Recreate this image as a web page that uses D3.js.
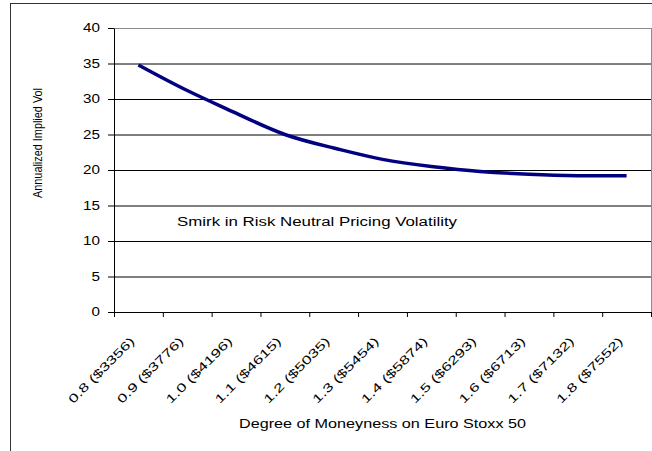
<!DOCTYPE html>
<html lang="en">

<head>
    <meta charset="UTF-8">
    <script src="https://d3js.org/d3.v7.min.js"></script>
    <title>Smirk</title>
    <style>
        body { margin: 0; background: #fff; }
        text { font-family: "Liberation Sans", Arial, sans-serif; fill: #000; }
    </style>
</head>

<body>
    <svg width="652" height="451" id="mainsvg"></svg>
    <script>
        // moneyness categories and implied vol
        const categories = ['0.8 ($3356)', '0.9 ($3776)', '1.0 ($4196)', '1.1 ($4615)', '1.2 ($5035)', '1.3 ($5454)',
            '1.4 ($5874)', '1.5 ($6293)', '1.6 ($6713)', '1.7 ($7132)', '1.8 ($7552)'];
        const vols = [34.8, 31.2, 28.0, 25.0, 23.1, 21.5, 20.5, 19.8, 19.4, 19.2, 19.2];
        const yTicks = [0, 5, 10, 15, 20, 25, 30, 35, 40];

        const svg = d3.select('#mainsvg');
        const width = +svg.attr('width');
        const height = +svg.attr('height');
        const margin = { top: 28, right: 1, bottom: 139, left: 114 };
        const innerWidth = width - margin.left - margin.right;
        const innerHeight = height - margin.top - margin.bottom;

        // outer chart frame (runs off the right and bottom edge)
        svg.append('rect')
            .attr('x', 10.5).attr('y', 3.5)
            .attr('width', 700).attr('height', 500)
            .attr('fill', 'none').attr('stroke', '#333');

        const g = svg.append('g')
            .attr('transform', `translate(${margin.left}, ${margin.top})`);

        const xScale = d3.scaleBand()
            .domain(categories)
            .range([0, innerWidth])
            .padding(0);

        const yScale = d3.scaleLinear()
            .domain([0, 40])
            .range([innerHeight, 0]);

        // stretch helper, the original text is drawn wide
        function stretch(sel, factor) {
            sel.each(function () {
                const w = this.getComputedTextLength();
                d3.select(this).attr('textLength', w * factor).attr('lengthAdjust', 'spacingAndGlyphs');
            });
        }

        // grid
        const grid = g.append('g')
            .call(d3.axisLeft(yScale).tickValues(yTicks).tickSize(-innerWidth).tickFormat(''));
        grid.select('.domain').remove();
        grid.selectAll('line').attr('stroke', '#000');

        // plot area border
        g.append('rect')
            .attr('x', 0.5).attr('y', 0.5)
            .attr('width', innerWidth).attr('height', innerHeight)
            .attr('fill', 'none').attr('stroke', '#8c8c8c');

        // y axis
        const yAxis = g.append('g')
            .call(d3.axisLeft(yScale).tickValues(yTicks).tickSize(6).tickPadding(8).tickSizeOuter(0));
        yAxis.selectAll('path, line').attr('stroke', '#000');
        yAxis.selectAll('text')
            .attr('font-size', 12)
            .attr('font-family', '"Liberation Sans", Arial, sans-serif');
        stretch(yAxis.selectAll('text'), 1.27);

        // x axis: ticks between categories, labels at centres
        const xAxis = g.append('g')
            .attr('transform', `translate(0, ${innerHeight})`)
            .call(d3.axisBottom(xScale).tickSize(0).tickSizeOuter(0));
        xAxis.select('.domain').attr('stroke', '#000');
        xAxis.selectAll('text')
            .attr('font-size', 12)
            .attr('font-family', '"Liberation Sans", Arial, sans-serif')
            .attr('text-anchor', 'end')
            .attr('x', 0).attr('y', 0).attr('dy', 0)
            .attr('transform', 'translate(-3, 30) rotate(-45)')
            .attr('textLength', 88)
            .attr('lengthAdjust', 'spacingAndGlyphs');

        xAxis.selectAll('.bound').data(categories.concat(['end'])).enter().append('line')
            .attr('class', 'bound')
            .attr('x1', (d, i) => (i < categories.length ? xScale(d) : innerWidth) + 0.5)
            .attr('x2', (d, i) => (i < categories.length ? xScale(d) : innerWidth) + 0.5)
            .attr('y1', 0).attr('y2', 5)
            .attr('stroke', '#000');

        // the smirk
        const line = d3.line()
            .x((d, i) => xScale(categories[i]) + xScale.bandwidth() / 2)
            .y(d => yScale(d))
            .curve(d3.curveNatural);

        g.append('path')
            .datum(vols)
            .attr('d', line)
            .attr('fill', 'none')
            .attr('stroke', '#000080')
            .attr('stroke-width', 3.5);

        // annotation
        g.append('text')
            .text('Smirk in Risk Neutral Pricing Volatility')
            .attr('x', 177 - margin.left)
            .attr('y', 226 - margin.top)
            .attr('font-size', 12)
            .attr('textLength', 280)
            .attr('lengthAdjust', 'spacingAndGlyphs');

        // axis titles
        svg.append('text')
            .text('Degree of Moneyness on Euro Stoxx 50')
            .attr('x', 239)
            .attr('y', 428)
            .attr('font-size', 12)
            .attr('textLength', 287)
            .attr('lengthAdjust', 'spacingAndGlyphs');

        svg.append('text')
            .text('Annualized Implied Vol')
            .attr('transform', 'translate(42, 143) rotate(-90)')
            .attr('text-anchor', 'middle')
            .attr('font-size', 12)
            .attr('textLength', 110)
            .attr('lengthAdjust', 'spacingAndGlyphs');
    </script>
</body>

</html>
